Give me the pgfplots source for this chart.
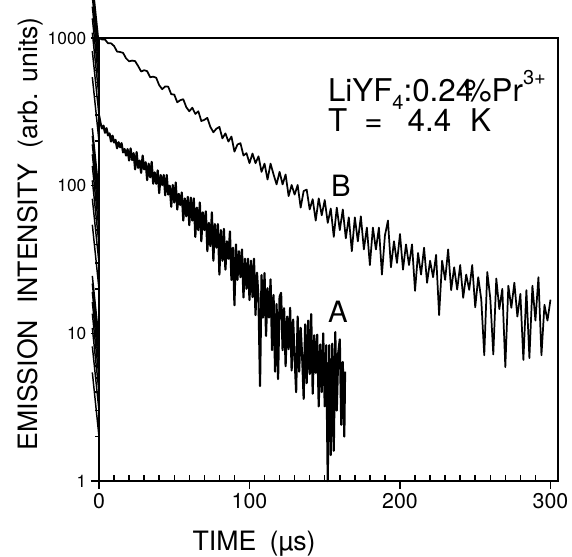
\documentclass[border=0pt]{standalone}
\usepackage{fontspec}
\setmainfont{TeX Gyre Heros}
\usepackage{pgfplots}
\pgfplotsset{compat=1.18}
\usetikzlibrary{calc}

\begin{document}
\begin{tikzpicture}
\begin{axis}[
 scale only axis, width=344.25pt, height=332.25pt,
 ymode=log, xmin=0, xmax=305, ymin=1, ymax=1000,
 xtick={0,100,200,300},
 extra x ticks={10,20,30,40,50,60,70,80,90,110,120,130,140,150,160,170,180,190,210,220,230,240,250,260,270,280,290},
 extra x tick labels={},
 extra x tick style={tick align=inside, major tick length=4.5pt},
 ytick={1,10,100,1000}, yticklabels={1,10,100,1000},
 tick pos=left, tick align=outside,
 major tick length=6pt,
 every tick/.style={line width=1.1pt,black},
 axis line style={line width=0.9pt},
 /pgf/number format/assume math mode=true,
 xticklabel style={font=\fontsize{16}{16}\selectfont},
 yticklabel style={font=\fontsize{13}{13}\selectfont},
 xlabel={TIME\hspace{0.5em}(µs)},
 ylabel={EMISSION\hspace{0.6em}INTENSITY\hspace{0.6em}(arb.\hspace{0.4em}units)},
 xlabel style={font=\fontsize{20}{20}\selectfont, at={(rel axis cs:0.338,-0.156)}, anchor=base},
 ylabel style={font=\fontsize{20}{20}\selectfont, at={(rel axis cs:-0.135,0.558)}, anchor=base},
 clip=false,
]
% minor ticks of the log axis, outside the left edge
\pgfplotsinvokeforeach{2,3,4,5,6,7,8,9,20,30,40,50,60,70,80,90,200,300,400,500,600,700,800,900}{
 \draw[black, line width=1.1pt] (axis cs:0,#1) -- ++(-5pt,0);
}
% curve A
\addplot[black, line width=1.6pt, line join=round] coordinates {
(0,300)(1,265)(2,244)(3,255)(4,228)(5,245)(6,219)(7,226)(8,199)(9,218)(10,196)(11,204)(12,179)(13,197)(14,182)(15,194)(16,168)(17,177)(18,160)(19,177)
(20,148)(21,179)(22,149)(23,166)(24,129)(25,169)(26,132)(27,148)(28,122)(29,160)(30,129)(31,144)(32,109)(33,141)(34,114)(35,145)(36,103)(37,123)(38,103)(39,127)
(40,89)(41,118)(42,101)(43,118)(44,86)(45,118)(46,87)(47,100)(48,72)(49,101)(50,77)(51,105)(52,69)(53,88)(54,74)(55,90)(56,58)(57,82)(58,62)(59,84)
(60,54)(61,83)(62,58)(63,82)(64,45)(65,71)(66,50)(67,77)(68,42)(69,66)(70,50)(71,67)(72,36)(73,56)(74,39)(75,66)(76,31)(77,55)(78,38)(79,55)
(80,25)(81,50)(82,31)(83,51)(84,27)(85,42)(86,32)(87,49)(88,23)(89,38)(90,15.5)(91,40)(92,23)(93,36)(94,24)(95,37)(96,17.5)(97,32)(98,20)(99,32)
(100,16.8)(101,31)(102,17.6)(103,32)(104,13.3)(105,25.7)(106,17.1)(107,4.4)(108,24.8)(109,12.8)(110,25.6)(111,9.6)(112,20.2)(113,12.8)(114,23.2)(115,7.7)(116,18.2)(117,5.5)(118,15.8)(119,4.9)
(120,17.7)(121,18.8)(122,7.7)(123,14.8)(124,6.0)(125,13)(126,7.8)(127,14.9)(128,5.6)(129,12.4)(130,6.8)(131,4.0)(132,13)(133,5.5)(134,10.9)(135,7.0)(136,3.6)(137,11.5)(138,4.6)(139,12.2)
(140,5.3)(141,13.5)(142,3.9)(143,9.7)(144,5.4)(145,9.8)(146,3.2)(147,8.4)(148,4.0)(149,10)(150,3.2)(151,8.3)(152,1.0)(153,8.3)(154,1.5)(155,8.5)(156,1.6)(157,10.2)(158,3)(159,7.4)
(160,9.1)(161,2.4)(162,6.4)(163,2.0)(163.5,5.5)
};
% curve B
\addplot[black, line width=1.3pt, line join=round] coordinates {
(0,1000)(2,977)(4,977)(6,920)(8,920)(10,883)(12,809)(14,804)(16,793)(18,728)(20,695)(22,703)(24,697)(26,646)(28,593)(30,605)(32,596)(34,542)(36,547)(38,538)
(40,479)(42,450)(44,470)(46,468)(48,416)(50,414)(52,367)(54,379)(56,385)(58,340)(60,319)(62,337)(64,306)(66,319)(68,274)(70,279)(72,288)(74,250)(76,230)(78,243)
(80,250)(82,209)(84,226)(86,199)(88,215)(90,170)(92,190)(94,194)(96,160)(98,166)(100,142)(102,165)(104,142)(106,158)(108,124)(110,141)(112,110)(114,141)(116,119)(118,102)
(120,124)(122,102)(124,119)(126,85)(128,101)(130,87)(132,101)(134,71)(136,92)(138,94)(140,69)(142,81)(144,58)(146,82)(148,63)(150,80)(152,56)(154,70)(156,45)(158,71)
(160,50)(162,69)(164,44)(166,61)(168,36)(170,61)(172,42)(174,62)(176,37)(178,52)(180,29)(182,52)(184,37)(186,52)(188,25)(190,46)(192,58)(194,28)(196,42)(198,30)
(200,47)(202,27)(204,40)(206,29)(208,40)(210,19.4)(212,35)(214,25)(216,38)(218,22)(220,31)(222,24)(224,34)(226,13.3)(228,31)(230,23)(232,37)(234,19.6)(236,28)(238,19.8)
(240,29)(242,17.4)(244,25)(246,19.7)(248,29)(250,15)(252,24)(254,17)(256,7.1)(258,26)(260,17.3)(262,7.2)(264,23.5)(266,14.6)(268,20)(270,5.9)(272,21)(274,14.9)(276,22)(278,13)
(280,18.5)(282,6.6)(284,19.6)(286,6.8)(288,21)(290,12.2)(292,24)(294,7.1)(296,15.6)(298,12.2)(300,16.9)
};
\node[anchor=base west, inner sep=0, font=\fontsize{23.5}{23.5}\selectfont] at (axis cs:152,369)
 {LiYF\raisebox{-0.25em}{\fontsize{15}{15}\selectfont 4}:0.24\kern-0.3em\%Pr\raisebox{0.55em}{\fontsize{15}{15}\selectfont 3+}};
\node[anchor=base west, inner sep=0, font=\fontsize{23.5}{23.5}\selectfont] at (axis cs:152,231)
 {T\hspace{0.55em}=\hspace{0.8em}4.4\hspace{0.6em}K};
\node[anchor=base west, inner sep=0, font=\fontsize{22}{22}\selectfont] at (axis cs:154,83.8) {B};
\node[anchor=base west, inner sep=0, font=\fontsize{22}{22}\selectfont] at (axis cs:152,11.9) {A};
\coordinate (SW) at (rel axis cs:0,0);
\coordinate (NE) at (rel axis cs:1,1);
\end{axis}
\pgfresetboundingbox
\path[use as bounding box] ($(SW)+(-74.25pt,-57pt)$) rectangle ($(NE)+(10.5pt,28.5pt)$);
\end{tikzpicture}
\end{document}
